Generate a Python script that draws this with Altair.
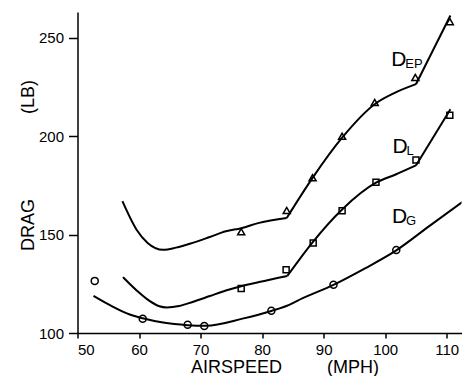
import altair as alt
import pandas as pd

# Smooth fitted curves
g_curve_x = [52.6, 55.2, 58.5, 60.6, 63.9, 67.9, 70.9, 76.8, 81.5, 84.4, 86.6, 91.6, 96.8, 101.8, 107.1, 113.6]
g_curve_y = [118.9, 114.3, 109.4, 107.5, 105.3, 104.0, 103.7, 107.3, 111.2, 114.3, 117.7, 124.5, 133.0, 142.0, 154.2, 169.0]

l_curve_x = [57.4, 60.1, 61.7, 63.3, 64.5, 66.5, 68.7, 71.5, 74.1, 76.6, 79.5, 84.1, 88.2, 93.0, 98.5, 101.7, 105.0, 110.6]
l_curve_y = [128.4, 120.3, 116.3, 113.6, 113.0, 113.7, 115.8, 118.8, 121.6, 123.8, 125.9, 129.0, 146.1, 162.8, 176.4, 180.6, 185.2, 213.8]

ep_curve_x = [57.3, 59.6, 61.4, 63.9, 66.0, 68.7, 71.5, 74.1, 76.6, 79.5, 84.0, 88.2, 93.0, 98.5, 101.7, 105.0, 110.6]
ep_curve_y = [167.0, 152.5, 145.8, 142.3, 143.4, 145.8, 148.8, 151.7, 153.3, 156.0, 158.5, 178.9, 199.3, 216.8, 222.3, 226.5, 261.4]

# Break points (sharp corners) of the D_L and D_EP curves
l_kinks = [84.1, 105.0]
ep_kinks = [84.0, 105.0]

# Measured points
g_pts_x = [52.8, 60.6, 67.9, 70.6, 81.5, 91.6, 101.8, 113.4]
g_pts_y = [126.5, 107.2, 104.2, 103.5, 111.3, 124.5, 142.2, 175.5]

l_pts_x = [76.6, 83.9, 88.3, 93.0, 98.5, 105.0, 110.5]
l_pts_y = [122.6, 132.1, 145.8, 162.2, 176.7, 187.9, 210.7]

ep_pts_x = [76.6, 84.0, 88.2, 93.0, 98.3, 104.9, 110.5]
ep_pts_y = [151.5, 162.3, 178.9, 200.0, 217.2, 229.9, 258.3]

# Curve labels
lab_main = ["D", "D", "D"]
lab_sub = ["EP", "L", "G"]
lab_x = [101.0, 101.2, 101.1]
lab_y = [235.8, 191.5, 155.9]

x_ticks = [50, 60, 70, 80, 90, 100, 110]
y_ticks = [100, 150, 200, 250]

FONT = "Liberation Sans"
NB = "\u00a0"


def segments(name, xs_, ys_, kinks):
    rows = []
    bounds = [float("-inf")] + list(kinks) + [float("inf")]
    for k in range(len(bounds) - 1):
        lo, hi = bounds[k], bounds[k + 1]
        for xv, yv in zip(xs_, ys_):
            if lo <= xv <= hi:
                rows.append({"x": xv, "y": yv, "s": f"{name}-{k}"})
    return pd.DataFrame(rows)


curves = pd.concat([
    segments("G", g_curve_x, g_curve_y, []),
    segments("L", l_curve_x, l_curve_y, l_kinks),
    segments("EP", ep_curve_x, ep_curve_y, ep_kinks),
])
g_pts = pd.DataFrame({"x": g_pts_x, "y": g_pts_y})
l_pts = pd.DataFrame({"x": l_pts_x, "y": l_pts_y})
ep_pts = pd.DataFrame({"x": ep_pts_x, "y": ep_pts_y})
labels = pd.DataFrame({"main": lab_main, "sub": lab_sub, "x": lab_x, "y": lab_y})

xs = alt.Scale(domain=[50, 112.4], zero=False, nice=False)
ys = alt.Scale(domain=[100, 263.2], zero=False, nice=False)

xax = alt.Axis(values=x_ticks, title="AIRSPEED" + NB * 9 + "(MPH)", grid=False,
               tickSize=5, labelPadding=4, labelFontSize=15, labelFont=FONT,
               titleFont=FONT, titleFontSize=18, titleFontWeight="normal",
               titleX=207, titleY=39, titleBaseline="alphabetic", titleAlign="center",
               domainColor="black", tickColor="black", labelColor="black", titleColor="black",
               domainWidth=1.5, tickWidth=1.5)
yax = alt.Axis(values=y_ticks, title="DRAG" + NB * 17 + "(LB)", grid=False,
               tickSize=9, labelPadding=5, labelFontSize=15, labelFont=FONT,
               titleFont=FONT, titleFontSize=18, titleFontWeight="normal",
               titleAngle=270, titleX=-44, titleY=153, titleBaseline="alphabetic", titleAlign="center",
               domainColor="black", tickColor="black", labelColor="black", titleColor="black",
               domainWidth=1.5, tickWidth=1.5)

lines = alt.Chart(curves).mark_line(color="black", strokeWidth=2, interpolate="monotone",
                                    clip=True, strokeJoin="miter").encode(
    x=alt.X("x:Q", scale=xs, axis=xax),
    y=alt.Y("y:Q", scale=ys, axis=yax),
    detail="s:N",
)


def pts(df, shape, size):
    return alt.Chart(df).mark_point(shape=shape, size=size, filled=False, color="black",
                                    strokeWidth=1.5, opacity=1).encode(
        x=alt.X("x:Q", scale=xs), y=alt.Y("y:Q", scale=ys))


main_txt = alt.Chart(labels).mark_text(font=FONT, fontSize=21, align="left", baseline="alphabetic",
                                       color="black").encode(
    x=alt.X("x:Q", scale=xs), y=alt.Y("y:Q", scale=ys), text="main:N")
sub_txt = alt.Chart(labels).mark_text(font=FONT, fontSize=13, align="left", baseline="alphabetic",
                                      color="black", dx=14, dy=2).encode(
    x=alt.X("x:Q", scale=xs), y=alt.Y("y:Q", scale=ys), text="sub:N")

chart = alt.layer(
    lines,
    pts(g_pts, "circle", 49),
    pts(l_pts, "square", 36),
    pts(ep_pts, "triangle-up", 50),
    main_txt,
    sub_txt,
).properties(
    width=384, height=321,
    autosize=alt.AutoSizeParams(type="none"),
    padding={"left": 69.5, "top": 4, "right": 0, "bottom": 43},
    background="white",
).configure_view(strokeOpacity=0)

chart.save("out.html", embed_options={"renderer": "svg", "actions": False})
